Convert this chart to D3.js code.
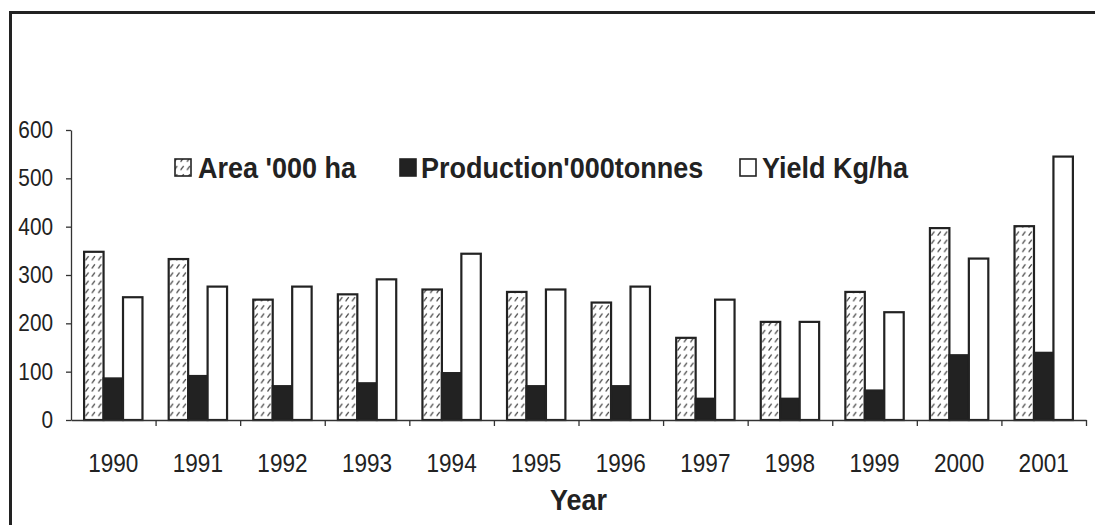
<!DOCTYPE html>
<html>
<head>
<meta charset="utf-8">
<script src="https://cdn.jsdelivr.net/npm/d3@7"></script>
<style>
  html, body { margin: 0; padding: 0; background: #fff; }
  svg { display: block; }
  text { font-family: "Liberation Sans", Arial, sans-serif; fill: #222; }
</style>
</head>
<body>
<svg id="chart" width="1095" height="525"></svg>
<script>
// Years on the category axis
const years = ["1990", "1991", "1992", "1993", "1994", "1995", "1996", "1997", "1998", "1999", "2000", "2001"];
// Series values per year
const area       = [348, 333, 249, 260, 270, 265, 243, 170, 203, 265, 397, 401];
const production = [86, 91, 70, 76, 97, 70, 70, 44, 44, 61, 134, 139];
const yieldKg    = [254, 276, 276, 291, 344, 270, 276, 249, 203, 223, 334, 545];
// Series names as shown in the legend
const seriesNames = ["Area '000 ha", "Production'000tonnes", "Yield Kg/ha"];
const yTicks = [0, 100, 200, 300, 400, 500, 600];
const xTitle = "Year";

const series = [
  { name: seriesNames[0], values: area, fill: "url(#hatch)" },
  { name: seriesNames[1], values: production, fill: "#222" },
  { name: seriesNames[2], values: yieldKg, fill: "#fff" }
];

const svg = d3.select("#chart");
const ink = "#222";

// slightly narrowed lettering throughout
const NARROW = 0.885;

// hatch of short diagonal dashes for the area bars
const defs = svg.append("defs");
const pat = defs.append("pattern")
  .attr("id", "hatch")
  .attr("patternUnits", "userSpaceOnUse")
  .attr("width", 6.4).attr("height", 8.2);
pat.append("rect").attr("width", 6.4).attr("height", 8.2).attr("fill", "#fff");
pat.append("line")
  .attr("x1", 1.4).attr("y1", 6.0).attr("x2", 4.4).attr("y2", 2.0)
  .attr("stroke", "#3a3a3a").attr("stroke-width", 1.2);

// frame edges (top and left)
svg.append("line").attr("x1", 9).attr("x2", 1095).attr("y1", 12.5).attr("y2", 12.5)
  .attr("stroke", ink).attr("stroke-width", 3);
svg.append("line").attr("x1", 10.5).attr("x2", 10.5).attr("y1", 11).attr("y2", 525)
  .attr("stroke", ink).attr("stroke-width", 3);

const plotLeft = 71, plotRight = 1086, plotTop = 130, plotBottom = 420;

const x0 = d3.scaleBand().domain(years).range([plotLeft, plotRight])
  .paddingInner(0.31).paddingOuter(0.155);
const x1 = d3.scaleBand().domain(d3.range(series.length)).range([0, x0.bandwidth()]);
const y = d3.scaleLinear().domain([0, 600]).range([plotBottom, plotTop]);

// y axis
const yAxis = svg.append("g").attr("transform", `translate(${plotLeft},0)`)
  .call(d3.axisLeft(y).tickValues(yTicks).tickSize(5).tickPadding(13).tickSizeOuter(0));
yAxis.selectAll("text")
  .style("font-size", "23.5px").attr("fill", ink)
  .attr("x", -18 / NARROW)
  .attr("transform", `scale(${NARROW},1)`);
yAxis.selectAll("line, path").attr("stroke", "#333").attr("stroke-width", 1.3);

// bars
const groups = svg.append("g").selectAll("g")
  .data(years).join("g")
  .attr("transform", d => `translate(${x0(d)},0)`);

groups.selectAll("rect")
  .data((d, i) => series.map((s, k) => ({ k, v: s.values[i], fill: s.fill })))
  .join("rect")
  .attr("x", d => x1(d.k))
  .attr("y", d => y(d.v))
  .attr("width", x1.bandwidth())
  .attr("height", d => y(0) - y(d.v))
  .attr("fill", d => d.fill)
  .attr("stroke", ink)
  .attr("stroke-width", 2.2);

// x axis line with ticks at category boundaries
const xb = d3.scaleLinear().domain([0, years.length]).range([plotLeft, plotRight]);
const xAxisLine = svg.append("g").attr("transform", `translate(0,${plotBottom})`)
  .call(d3.axisBottom(xb).tickValues(d3.range(1, years.length + 1))
    .tickSize(6).tickSizeOuter(0).tickFormat(""));
xAxisLine.selectAll("line, path").attr("stroke", "#333").attr("stroke-width", 1.3);

// year labels
const xLabels = svg.append("g").attr("transform", `translate(0,${plotBottom})`)
  .call(d3.axisBottom(x0).tickSize(0));
xLabels.select(".domain").remove();
xLabels.selectAll("text")
  .style("font-size", "25.5px").attr("fill", ink)
  .attr("y", 52).attr("dy", 0)
  .attr("transform", `scale(${NARROW},1)`);

// axis title
svg.append("g").attr("transform", `translate(${(plotLeft + plotRight) / 2},510)`)
  .append("text")
  .attr("text-anchor", "middle")
  .attr("transform", `scale(0.9,1)`)
  .style("font-size", "30px").style("font-weight", "bold")
  .text(xTitle);

// legend
const legendItems = [
  { box: 175, text: 198 },
  { box: 400, text: 421 },
  { box: 740, text: 762 }
];
const legend = svg.append("g");
series.forEach((s, i) => {
  legend.append("rect")
    .attr("x", legendItems[i].box).attr("y", 159)
    .attr("width", 16).attr("height", 17)
    .attr("fill", s.fill).attr("stroke", ink).attr("stroke-width", 1.6);
  legend.append("g").attr("transform", `translate(${legendItems[i].text},178)`)
    .append("text")
    .attr("transform", `scale(0.9,1)`)
    .style("font-size", "30px").style("font-weight", "bold")
    .text(s.name);
});
</script>
</body>
</html>
